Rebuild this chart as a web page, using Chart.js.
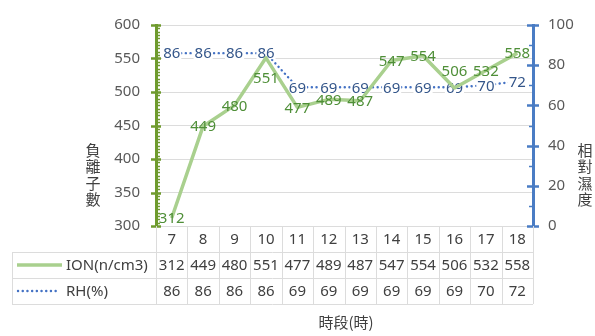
<!DOCTYPE html>
<html>
<head>
<meta charset="utf-8">
<script src="https://cdn.jsdelivr.net/npm/chart.js@4/dist/chart.umd.min.js"></script>
<style>
  html, body { margin: 0; padding: 0; background: #ffffff; }
  #wrap { width: 595px; height: 336px; position: relative; }
</style>
</head>
<body>
<div id="wrap"><canvas id="c" width="595" height="336"></canvas></div>
<script>
// Hourly readings: negative-ion count and relative humidity
const hours = ['7', '8', '9', '10', '11', '12', '13', '14', '15', '16', '17', '18'];
const ionValues = [312, 449, 480, 551, 477, 489, 487, 547, 554, 506, 532, 558];
const rhValues = [86, 86, 86, 86, 69, 69, 69, 69, 69, 69, 70, 72];
const seriesNames = ['ION(n/cm3)', 'RH(%)'];
const leftTitle = '負離子數';
const rightTitle = '相對濕度';
const xTitle = '時段(時)';

const FONT = "'Noto Sans', 'Noto Sans CJK TC', sans-serif";
const CJK = "'Noto Sans CJK TC', 'Noto Sans', sans-serif";
const ION_LINE = '#a9d08e';
const RH_LINE = '#4472c4';
const LEFT_AXIS = '#6f9b2e';
const RIGHT_AXIS = '#4a7cc4';
const GRID = '#dcdcdc';
const TEXT = '#404040';

function drawValueLabels(chart, dsIndex, color, shifts, knockout) {
  const ctx = chart.ctx;
  const meta = chart.getDatasetMeta(dsIndex);
  const values = chart.data.datasets[dsIndex].data;
  ctx.save();
  ctx.font = '15px ' + FONT;
  ctx.textAlign = 'center';
  ctx.textBaseline = 'middle';
  meta.data.forEach((pt, j) => {
    const txt = String(values[j]);
    const x = pt.x;
    const y = pt.y + (shifts[j] || 0);
    if (knockout) {
      const w = ctx.measureText(txt).width;
      ctx.fillStyle = '#ffffff';
      ctx.fillRect(x - w / 2 - 1, y - 6, w + 2, 12);
    }
    ctx.fillStyle = color;
    ctx.fillText(txt, x, y + 1);
  });
  ctx.restore();
}

const decor = {
  id: 'decor',
  afterDatasetDraw(chart, args) {
    // humidity labels sit under the ion line
    if (args.index === 1) drawValueLabels(chart, 1, '#34568a', {}, true);
  },
  afterDatasetsDraw(chart) {
    drawValueLabels(chart, 0, '#4f8f38', { 3: 20, 9: -17 }, false);
  },
  afterDraw(chart) {
    const ctx = chart.ctx;
    const area = chart.chartArea;
    const yL = chart.scales.y;
    const yR = chart.scales.y1;
    ctx.save();

    // left axis tick marks (major every 50, minor every 5)
    ctx.strokeStyle = LEFT_AXIS;
    for (let v = 300; v <= 600; v += 5) {
      const py = Math.round(yL.getPixelForValue(v)) + 0.5;
      ctx.beginPath();
      if (v % 50 === 0) {
        ctx.lineWidth = 2.5;
        ctx.moveTo(area.left - 5, py);
        ctx.lineTo(area.left + 5, py);
      } else {
        ctx.lineWidth = 1.5;
        ctx.moveTo(area.left, py);
        ctx.lineTo(area.left + 4, py);
      }
      ctx.stroke();
    }

    // right axis tick marks (major every 20, minor every 10)
    ctx.strokeStyle = RIGHT_AXIS;
    for (let v = 0; v <= 100; v += 10) {
      const py = Math.round(yR.getPixelForValue(v)) + 0.5;
      ctx.beginPath();
      if (v % 20 === 0) {
        ctx.lineWidth = 2.5;
        ctx.moveTo(area.right - 6, py);
        ctx.lineTo(area.right + 6, py);
      } else {
        ctx.lineWidth = 1.5;
        ctx.moveTo(area.right - 4, py);
        ctx.lineTo(area.right, py);
      }
      ctx.stroke();
    }

    // data table under the plot
    const n = hours.length;
    const colW = (area.right - area.left) / n;
    const rowH = 26;
    const top = area.bottom;
    const tableLeft = 12;
    ctx.strokeStyle = GRID;
    ctx.lineWidth = 1;
    ctx.beginPath();
    for (let k = 0; k <= n; k++) {
      const px = Math.round(area.left + k * colW) + 0.5;
      ctx.moveTo(px, top);
      ctx.lineTo(px, top + rowH * 3);
    }
    ctx.moveTo(tableLeft + 0.5, top + rowH);
    ctx.lineTo(tableLeft + 0.5, top + rowH * 3);
    for (let r = 1; r <= 3; r++) {
      const py = top + rowH * r + 0.5;
      ctx.moveTo(tableLeft, py);
      ctx.lineTo(area.right, py);
    }
    ctx.stroke();

    ctx.fillStyle = TEXT;
    ctx.font = '15px ' + FONT;
    ctx.textAlign = 'center';
    ctx.textBaseline = 'middle';
    for (let k = 0; k < n; k++) {
      const cx = area.left + (k + 0.5) * colW;
      ctx.fillText(hours[k], cx, top + rowH * 0.5 + 1);
      ctx.fillText(String(ionValues[k]), cx, top + rowH * 1.5 + 1);
      ctx.fillText(String(rhValues[k]), cx, top + rowH * 2.5 + 1);
    }

    // legend keys inside the table
    const ionY = top + rowH * 1.5;
    const rhY = top + rowH * 2.5;
    ctx.strokeStyle = ION_LINE;
    ctx.lineWidth = 3.5;
    ctx.beginPath();
    ctx.moveTo(17, ionY);
    ctx.lineTo(62, ionY);
    ctx.stroke();
    ctx.strokeStyle = RH_LINE;
    ctx.lineWidth = 2.4;
    ctx.lineCap = 'round';
    ctx.setLineDash([0.1, 4.6]);
    ctx.beginPath();
    ctx.moveTo(18, rhY);
    ctx.lineTo(60, rhY);
    ctx.stroke();
    ctx.setLineDash([]);
    ctx.lineCap = 'butt';
    ctx.textAlign = 'left';
    ctx.fillStyle = TEXT;
    ctx.fillText(seriesNames[0], 66, ionY + 1);
    ctx.fillText(seriesNames[1], 66, rhY + 1);

    // axis titles
    ctx.font = '15px ' + CJK;
    ctx.textAlign = 'center';
    ctx.fillStyle = TEXT;
    ctx.fillText(xTitle, 346, 322);
    const stack = (txt, x) => {
      const chars = Array.from(txt);
      const step = 16.5;
      const y0 = 175 - (chars.length - 1) * step / 2;
      chars.forEach((ch, i) => ctx.fillText(ch, x, y0 + i * step));
    };
    stack(leftTitle, 93);
    stack(rightTitle, 585);
    ctx.restore();
  }
};

new Chart(document.getElementById('c'), {
  type: 'line',
  data: {
    labels: hours,
    datasets: [
      {
        label: seriesNames[0],
        data: ionValues,
        yAxisID: 'y',
        borderColor: ION_LINE,
        backgroundColor: ION_LINE,
        borderWidth: 3.5,
        pointRadius: 0,
        tension: 0,
        borderJoinStyle: 'round'
      },
      {
        label: seriesNames[1],
        data: rhValues,
        yAxisID: 'y1',
        borderColor: RH_LINE,
        backgroundColor: RH_LINE,
        borderWidth: 2.4,
        borderDash: [0.1, 4.6],
        borderCapStyle: 'round',
        pointRadius: 0,
        tension: 0
      }
    ]
  },
  options: {
    responsive: false,
    devicePixelRatio: 1,
    animation: false,
    layout: { padding: { top: 14, bottom: 110, left: 0, right: 0 } },
    plugins: { legend: { display: false }, tooltip: { enabled: false }, title: { display: false } },
    scales: {
      x: { display: false, offset: true },
      y: {
        position: 'left',
        min: 300,
        max: 600,
        afterFit(s) { s.width = 156; },
        ticks: { stepSize: 50, padding: 16, color: '#595959', font: { family: FONT, size: 15 } },
        grid: { color: GRID, lineWidth: 1, drawTicks: false },
        border: { display: true, color: LEFT_AXIS, width: 3 }
      },
      y1: {
        position: 'right',
        min: 0,
        max: 100,
        afterFit(s) { s.width = 62; },
        ticks: { stepSize: 20, padding: 15, color: '#595959', font: { family: FONT, size: 15 } },
        grid: { display: false, drawTicks: false },
        border: { display: true, color: RIGHT_AXIS, width: 3 }
      }
    }
  },
  plugins: [decor]
});
</script>
</body>
</html>
